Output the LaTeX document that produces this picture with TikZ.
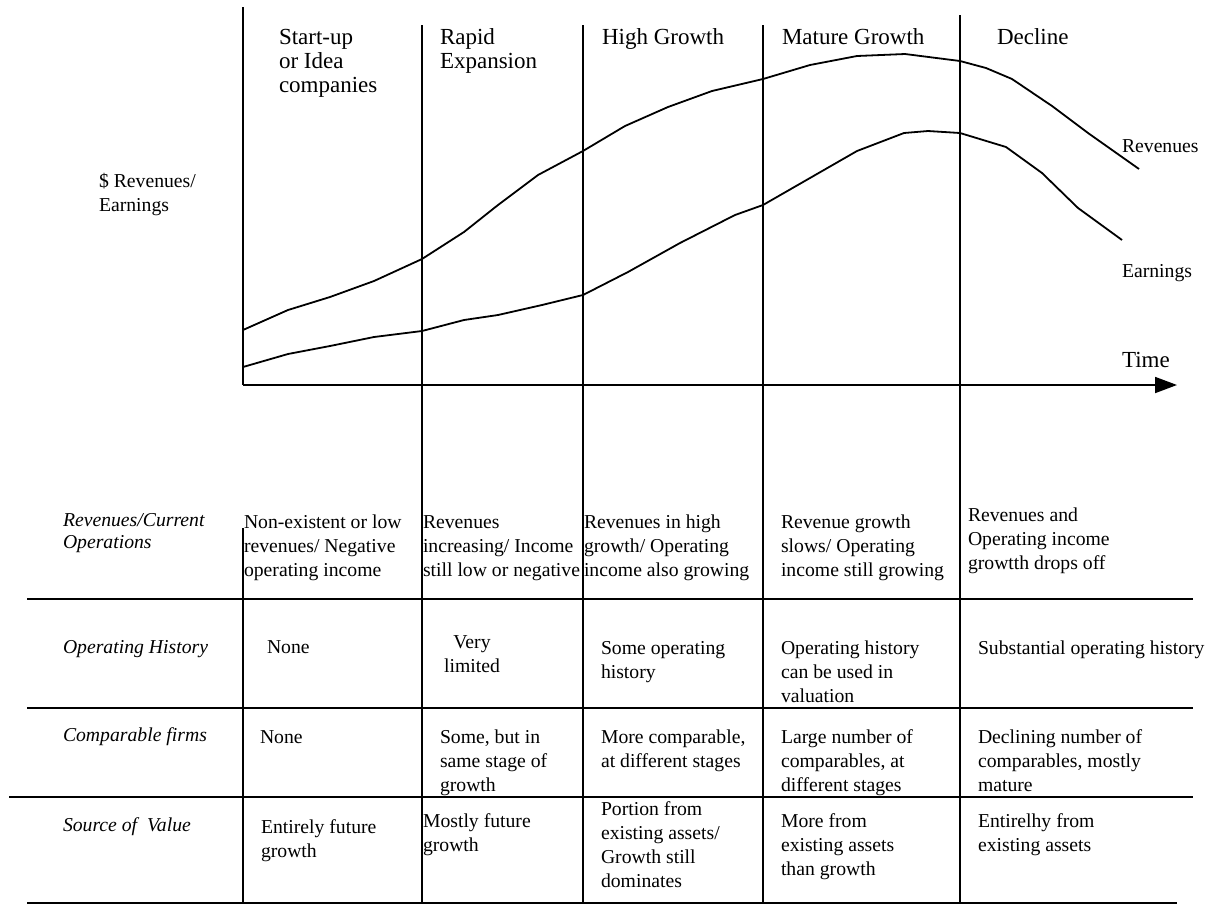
\documentclass[tikz,border=0pt]{standalone}
\usepackage{fontspec}
\setmainfont{Liberation Serif}
\usetikzlibrary{arrows.meta}
\newcommand\tlines[1]{\vtop{\halign{##\hfil\cr#1\crcr}}}
\newcommand\clines[1]{\vtop{\halign{\hfil##\hfil\cr#1\crcr}}}
\tikzset{
  every node/.style={inner sep=0pt, outer sep=0pt},
  rule/.style={line width=1.8pt},
  curve/.style={line width=1.8pt, line join=round},
  hdr/.style={font=\fontsize{23}{24}\selectfont, anchor=base west},
  cell/.style={font=\fontsize{19.7}{24}\selectfont, anchor=base west},
  rowlab/.style={font=\fontsize{19.7}{22}\selectfont\itshape, anchor=base west},
}
\begin{document}
\begin{tikzpicture}[x=1pt,y=-1pt]
\useasboundingbox (0,0) rectangle (1207,906);
% axes
\coordinate (ytop) at (243,7);
\coordinate (O) at (243,385);
\coordinate (xend) at (1177,385);
\draw[rule] (ytop) -- (O);
\draw[rule,-{Triangle[length=22pt,width=16pt]}] (O) -- (xend);
% stage separators
\coordinate (s1t) at (422,25);  \coordinate (s1b) at (422,903);
\coordinate (s2t) at (583,25);  \coordinate (s2b) at (583,903);
\coordinate (s3t) at (763,25);  \coordinate (s3b) at (763,903);
\coordinate (s4t) at (960,15);  \coordinate (s4b) at (960,903);
\coordinate (s0t) at (243,528); \coordinate (s0b) at (243,903);
\draw[rule] (s1t) -- (s1b);
\draw[rule] (s2t) -- (s2b);
\draw[rule] (s3t) -- (s3b);
\draw[rule] (s4t) -- (s4b);
\draw[rule] (s0t) -- (s0b);
% table rows
\coordinate (r1l) at (27,599);  \coordinate (r1r) at (1193,599);
\coordinate (r2l) at (27,708);  \coordinate (r2r) at (1193,708);
\coordinate (r3l) at (9,797);   \coordinate (r3r) at (1193,797);
\coordinate (r4l) at (27,903);  \coordinate (r4r) at (1177,903);
\draw[rule] (r1l) -- (r1r);
\draw[rule] (r2l) -- (r2r);
\draw[rule] (r3l) -- (r3r);
\draw[rule] (r4l) -- (r4r);
% curves
\draw[curve] (243,330) -- (288,310) -- (330,297) -- (374,281) -- (422,259) -- (464,232) -- (498,205) -- (538,175) -- (583,151) -- (625,126) -- (668,107) -- (712,91) -- (763,79) -- (810,65) -- (857,56) -- (905,54) -- (960,61) -- (986,68) -- (1012,79) -- (1052,106) -- (1088,133) -- (1139,169);
\draw[curve] (243,367) -- (288,354) -- (330,346) -- (374,337) -- (422,331) -- (464,320) -- (498,315) -- (542,305) -- (583,295) -- (628,272) -- (680,243) -- (735,215) -- (763,205) -- (810,178) -- (857,151) -- (904,133) -- (928,131) -- (960,133) -- (1006,147) -- (1042,173) -- (1078,208) -- (1122,240);
% headers
\node[hdr] (h1) at (279,44) {\tlines{Start-up\cr or Idea\cr companies}};
\node[hdr] (h2) at (440,44) {\tlines{Rapid\cr Expansion}};
\node[hdr] (h3) at (602,44) {High Growth};
\node[hdr] (h4) at (782,44) {Mature Growth};
\node[hdr] (h5) at (997,44) {Decline};
% axis labels
\node[cell] (ylab) at (99,187) {\tlines{\$ Revenues/\cr Earnings}};
\node[cell] (revlab) at (1122,152) {Revenues};
\node[cell] (earnlab) at (1122,277) {Earnings};
\node[hdr] (timelab) at (1122,367) {Time};
% row labels
\node[rowlab] (l1) at (63,526) {\tlines{Revenues/Current\cr Operations}};
\node[rowlab] (l2) at (63,653) {Operating History};
\node[rowlab] (l3) at (63,741) {Comparable firms};
\node[rowlab] (l4) at (63,831) {Source of\ \ Value};
% row 1
\node[cell] (c11) at (244,528) {\tlines{Non-existent or low\cr revenues/ Negative\cr operating income}};
\node[cell] (c12) at (423,528) {\tlines{Revenues\cr increasing/ Income\cr still low or negative}};
\node[cell] (c13) at (584,528) {\tlines{Revenues in high\cr growth/ Operating\cr income also growing}};
\node[cell] (c14) at (781,528) {\tlines{Revenue growth\cr slows/ Operating\cr income still growing}};
\node[cell] (c15) at (968,521) {\tlines{Revenues and\cr Operating income\cr growtth drops off}};
% row 2
\node[cell] (c21) at (267,653) {None};
\node[cell, anchor=base] (c22) at (472,648) {\clines{Very\cr limited}};
\node[cell] (c23) at (601,654) {\tlines{Some operating\cr history}};
\node[cell] (c24) at (781,654) {\tlines{Operating history\cr can be used in\cr valuation}};
\node[cell] (c25) at (978,654) {Substantial operating history};
% row 3
\node[cell] (c31) at (260,743) {None};
\node[cell] (c32) at (440,743) {\tlines{Some, but in\cr same stage of\cr growth}};
\node[cell] (c33) at (601,743) {\tlines{More comparable,\cr at different stages}};
\node[cell] (c34) at (781,743) {\tlines{Large number of\cr comparables, at\cr different stages}};
\node[cell] (c35) at (978,743) {\tlines{Declining number of\cr comparables, mostly\cr mature}};
% row 4
\node[cell] (c41) at (261,833) {\tlines{Entirely future\cr growth}};
\node[cell] (c42) at (423,827) {\tlines{Mostly future\cr growth}};
\node[cell] (c43) at (601,815) {\tlines{Portion from\cr existing assets/\cr Growth still\cr dominates}};
\node[cell] (c44) at (781,827) {\tlines{More from\cr existing assets\cr than growth}};
\node[cell] (c45) at (978,827) {\tlines{Entirelhy from\cr existing assets}};
\end{tikzpicture}
\end{document}
